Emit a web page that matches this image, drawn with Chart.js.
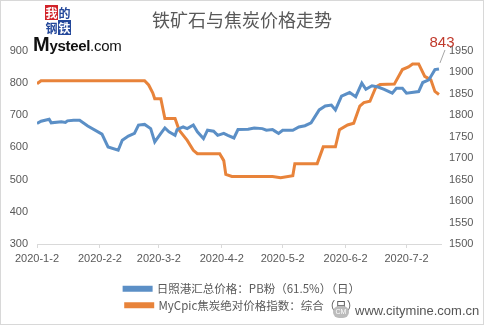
<!DOCTYPE html>
<html>
<head>
<meta charset="utf-8">
<script src="https://cdn.jsdelivr.net/npm/chart.js@4/dist/chart.umd.min.js"></script>
<style>
	html, body { margin: 0; padding: 0; background: #fff; }
	#wrap { position: relative; width: 484px; height: 325px; overflow: hidden; }
	#frame { position: absolute; left: 0; top: 0; width: 482px; height: 323px; border: 1px solid #d8d8d8; pointer-events: none; }
	.logo { position: absolute; left: 45px; top: 5px; width: 26px; height: 30px; font-family: "Noto Sans CJK SC"; font-size: 12px; line-height: 15px; }
	.logo span { position: absolute; width: 13px; height: 15px; text-align: center; font-weight: bold; }
	.brand { position: absolute; left: 33px; top: 33px; font-family: "Liberation Sans", Arial; font-size: 15px; font-weight: bold; color: #111; letter-spacing: -0.3px; }
	.brand b { font-size: 20px; }
	.brand i { font-style: normal; font-weight: normal; }
	.site { position: absolute; left: 333px; top: 303px; font-family: "Liberation Sans", Arial; font-size: 13px; color: #555; }
	.site .cm { display: inline-block; width: 16px; height: 12px; border-radius: 7px; background: #bbb; color: #fff; font-size: 7px; line-height: 12px; text-align: center; margin-right: 6px; vertical-align: 1px; }
</style>
</head>
<body>
<div id="wrap">
	<canvas id="chart"></canvas>
	<div class="logo">
		<span style="left:0;top:0;background:#d2232a;color:#fff;">我</span>
		<span style="left:13px;top:0;background:#fff;color:#23479a;">的</span>
		<span style="left:0;top:15px;background:#fff;color:#23479a;">钢</span>
		<span style="left:13px;top:15px;background:#23479a;color:#fff;">铁</span>
	</div>
	<div class="brand"><b>M</b>ysteel<i>.com</i></div>
	<div class="site"><span class="cm">CM</span>www.citymine.com.cn</div>
	<div id="frame"></div>
</div>
<script>
	'use strict';

	// x axis tick dates
	var tickDates = ['2020-1-2', '2020-2-2', '2020-3-2', '2020-4-2', '2020-5-2', '2020-6-2', '2020-7-2'];

	// 日照港 PB粉 (left axis)
	var oreDates = ['2020-1-2', '2020-1-4', '2020-1-8', '2020-1-9', '2020-1-14', '2020-1-16', '2020-1-17',
		'2020-1-20', '2020-1-23', '2020-1-27', '2020-2-3', '2020-2-6', '2020-2-11', '2020-2-13', '2020-2-16',
		'2020-2-19', '2020-2-21', '2020-2-24', '2020-2-27', '2020-2-29', '2020-3-3', '2020-3-5', '2020-3-7',
		'2020-3-10', '2020-3-11', '2020-3-14', '2020-3-16', '2020-3-19', '2020-3-21', '2020-3-24', '2020-3-26',
		'2020-3-29', '2020-3-31', '2020-4-3', '2020-4-5', '2020-4-8', '2020-4-10', '2020-4-15', '2020-4-18',
		'2020-4-22', '2020-4-24', '2020-4-27', '2020-4-28', '2020-4-30', '2020-5-2', '2020-5-7', '2020-5-10',
		'2020-5-13', '2020-5-16', '2020-5-20', '2020-5-23', '2020-5-26', '2020-5-28', '2020-5-31', '2020-6-4',
		'2020-6-7', '2020-6-10', '2020-6-12', '2020-6-15', '2020-6-18', '2020-6-21', '2020-6-25', '2020-6-27',
		'2020-6-30', '2020-7-2', '2020-7-8', '2020-7-10', '2020-7-13', '2020-7-16', '2020-7-18'];
	var oreValues = [674, 681, 687, 676, 679, 677, 682,
		684, 684, 666, 641, 601, 591, 622, 635,
		643, 669, 671, 658, 617, 643, 660, 648,
		637, 655, 663, 658, 669, 648, 627, 653,
		650, 637, 643, 637, 629, 655, 656, 660,
		658, 653, 655, 651, 643, 653, 653, 663,
		667, 676, 716, 728, 731, 716, 759, 770,
		757, 799, 780, 791, 787, 780, 768, 783,
		783, 768, 773, 801, 809, 841, 843];

	// MyCpic 焦炭 (right axis)
	var cokeDates = ['2020-1-2', '2020-1-4', '2020-2-24', '2020-2-26', '2020-2-28', '2020-2-29', '2020-3-3',
		'2020-3-5', '2020-3-10', '2020-3-12', '2020-3-16', '2020-3-19', '2020-3-21', '2020-4-1', '2020-4-3',
		'2020-4-4', '2020-4-7', '2020-4-27', '2020-5-1', '2020-5-7', '2020-5-8', '2020-5-19', '2020-5-22',
		'2020-5-28', '2020-5-30', '2020-6-3', '2020-6-6', '2020-6-9', '2020-6-11', '2020-6-14', '2020-6-17',
		'2020-6-19', '2020-6-26', '2020-6-30', '2020-7-3', '2020-7-5', '2020-7-8', '2020-7-11', '2020-7-14',
		'2020-7-16', '2020-7-18'];
	var cokeValues = [1873, 1880, 1880, 1870, 1852, 1838, 1838,
		1792, 1792, 1765, 1741, 1718, 1710, 1710, 1694,
		1662, 1657, 1657, 1654, 1659, 1687, 1687, 1726,
		1726, 1766, 1777, 1781, 1821, 1829, 1832, 1866,
		1871, 1872, 1906, 1912, 1919, 1919, 1890, 1882,
		1855, 1848];

	var labelOre = '日照港汇总价格：PB粉（61.5%）（日）';
	var labelCoke = 'MyCpic焦炭绝对价格指数：综合（日）';

	var base = Date.UTC(2020, 0, 2);
	function dayOf(s) {
		var p = s.split('-').map(Number);
		return (Date.UTC(p[0], p[1] - 1, p[2]) - base) / 86400000;
	}
	function toPoints(dates, values) {
		return dates.map(function (d, i) { return { x: dayOf(d), y: values[i] }; });
	}
	var tickDays = tickDates.map(dayOf);
	function dayLabel(v) {
		var d = new Date(base + v * 86400000);
		return d.getUTCFullYear() + '-' + (d.getUTCMonth() + 1) + '-' + d.getUTCDate();
	}

	var grey = '#595959';
	var blue = '#5b8fc6';
	var orange = '#e8833a';

	// red "843" callout on the last blue point
	var lastLabel = {
		id: 'lastLabel',
		afterDatasetsDraw: function (chart) {
			var pts = chart.getDatasetMeta(0).data;
			var p = pts[pts.length - 1];
			var ctx = chart.ctx;
			ctx.save();
			ctx.strokeStyle = '#a6a6a6';
			ctx.lineWidth = 1;
			ctx.beginPath();
			ctx.moveTo(p.x + 6, p.y - 19);
			ctx.lineTo(p.x + 1, p.y - 6);
			ctx.stroke();
			ctx.fillStyle = '#c0392b';
			ctx.font = '15px "Liberation Sans", Arial';
			ctx.textAlign = 'center';
			ctx.textBaseline = 'middle';
			ctx.fillText(String(oreValues[oreValues.length - 1]), p.x + 3, p.y - 26);
			ctx.restore();
		}
	};

	new Chart(document.getElementById('chart'), {
		type: 'line',
		data: {
			datasets: [{
				label: labelOre,
				data: toPoints(oreDates, oreValues),
				yAxisID: 'y',
				borderColor: blue,
				backgroundColor: blue,
				borderWidth: 3,
				pointRadius: 0,
				tension: 0
			}, {
				label: labelCoke,
				data: toPoints(cokeDates, cokeValues),
				yAxisID: 'y1',
				borderColor: orange,
				backgroundColor: orange,
				borderWidth: 3,
				pointRadius: 0,
				tension: 0
			}]
		},
		options: {
			responsive: true,
			maintainAspectRatio: false,
			animation: false,
			// side padding keeps the legend narrow enough to wrap into two rows
			layout: { padding: { left: 6, right: 6, top: 0, bottom: 4 } },
			plugins: {
				title: {
					display: true,
					text: '铁矿石与焦炭价格走势',
					color: grey,
					font: { family: '"Noto Sans CJK SC"', size: 18, weight: 'normal' },
					padding: { top: 9, bottom: 20 }
				},
				legend: {
					position: 'bottom',
					labels: {
						boxWidth: 27,
						boxHeight: 3,
						padding: 5,
						color: grey,
						font: { family: '"Noto Sans CJK SC"', size: 11.5 }
					}
				},
				tooltip: { enabled: false }
			},
			scales: {
				x: {
					type: 'linear',
					min: 0,
					max: 199,
					afterBuildTicks: function (scale) {
						scale.ticks = tickDays.map(function (v) { return { value: v }; });
					},
					afterFit: function (scale) { scale.height = 34; },
					ticks: {
						autoSkip: false,
						maxRotation: 0,
						color: grey,
						padding: 4,
						font: { family: '"Liberation Sans", Arial', size: 11 },
						callback: function (v) { return dayLabel(v); }
					},
					grid: { drawOnChartArea: false, color: '#d9d9d9', tickLength: 4 },
					border: { color: '#d9d9d9' }
				},
				y: {
					position: 'left',
					min: 300,
					max: 900,
					afterFit: function (scale) { scale.width = 31; },
					ticks: {
						stepSize: 100,
						color: grey,
						padding: 9,
						font: { family: '"Liberation Sans", Arial', size: 11 },
						callback: function (v) { return String(v); }
					},
					grid: { display: false, drawTicks: false },
					border: { display: false }
				},
				y1: {
					position: 'right',
					min: 1500,
					max: 1950,
					afterFit: function (scale) { scale.width = 37; },
					ticks: {
						stepSize: 50,
						color: grey,
						padding: 8,
						font: { family: '"Liberation Sans", Arial', size: 11 },
						callback: function (v) { return String(v); }
					},
					grid: { display: false, drawTicks: false },
					border: { display: false }
				}
			}
		},
		plugins: [lastLabel]
	});
</script>
</body>
</html>
